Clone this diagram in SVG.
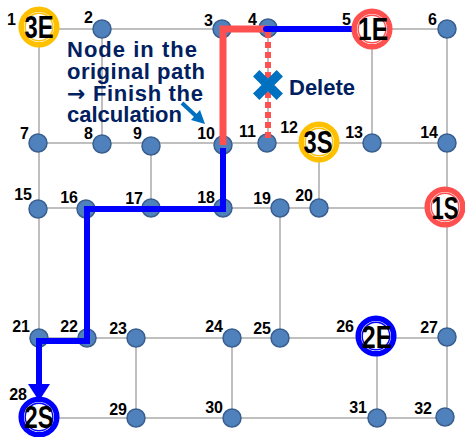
<svg xmlns="http://www.w3.org/2000/svg" width="465" height="437" viewBox="0 0 465 437">
  <style>
    .grid line { stroke: #BFBFBF; stroke-width: 2; }
    .node { fill: #4F81BD; stroke: #3A5F8F; stroke-width: 1.5; }
    .num { font-family: "Liberation Sans", Arial, sans-serif; font-weight: bold; font-size: 16px; fill: #000; text-anchor: end; }
    .big { font-family: "Liberation Sans", Arial, sans-serif; font-weight: bold; font-size: 31px; fill: #000; text-anchor: middle; }
    .note { font-family: "Liberation Sans", Arial, sans-serif; font-weight: bold; font-size: 22px; fill: #002060; }
    .arrow-glyph { font-family: "DejaVu Sans", sans-serif; }
    .ring { fill: #fff; stroke-width: 5.5; }
    .ring-in { fill: none; stroke-width: 1.4; }
    .yellow { stroke: #FFC000; }
    .red { stroke: #FF5050; }
    .blue { stroke: #0000FF; }
  </style>

  <rect width="465" height="437" fill="#fff"/>

  <!-- street grid -->
  <g id="connectors">
    <g class="grid">
      <line x1="39" y1="29" x2="447" y2="29"/>
      <line x1="38" y1="143" x2="447" y2="143"/>
      <line x1="38" y1="208" x2="447" y2="208"/>
      <line x1="39" y1="338" x2="447" y2="338"/>
      <line x1="38" y1="418" x2="445" y2="418"/>
      <line x1="39" y1="27" x2="39" y2="417"/>
      <line x1="102" y1="29" x2="102" y2="144"/>
      <line x1="151" y1="146" x2="151" y2="208"/>
      <line x1="223" y1="29" x2="223" y2="208"/>
      <line x1="268" y1="28" x2="268" y2="143"/>
      <line x1="319" y1="142" x2="319" y2="208"/>
      <line x1="372" y1="29" x2="372" y2="143"/>
      <line x1="447" y1="29" x2="447" y2="417"/>
      <line x1="87" y1="209" x2="87" y2="338"/>
      <line x1="136" y1="338" x2="136" y2="418"/>
      <line x1="232" y1="338" x2="232" y2="418"/>
      <line x1="280" y1="208" x2="280" y2="338"/>
      <line x1="377" y1="336" x2="377" y2="418"/>
    </g>
  </g>

  <!-- intersections -->
  <g id="nodes">
    <circle id="n2" class="node" cx="102" cy="29" r="9"/>
    <circle id="n3" class="node" cx="222" cy="29" r="9"/>
    <circle id="n4" class="node" cx="268" cy="28" r="9"/>
    <circle id="n6" class="node" cx="447" cy="29" r="9"/>
    <circle id="n7" class="node" cx="38" cy="143" r="9"/>
    <circle id="n8" class="node" cx="102" cy="144" r="9"/>
    <circle id="n9" class="node" cx="151" cy="146" r="9"/>
    <circle id="n10" class="node" cx="223" cy="145" r="9"/>
    <circle id="n11" class="node" cx="267" cy="143" r="9"/>
    <circle id="n13" class="node" cx="372" cy="143" r="9"/>
    <circle id="n14" class="node" cx="447" cy="143" r="9"/>
    <circle id="n15" class="node" cx="38" cy="209" r="9"/>
    <circle id="n16" class="node" cx="86" cy="209" r="9"/>
    <circle id="n17" class="node" cx="151" cy="208" r="9"/>
    <circle id="n18" class="node" cx="223" cy="208" r="9"/>
    <circle id="n19" class="node" cx="280" cy="208" r="9"/>
    <circle id="n20" class="node" cx="319" cy="208" r="9"/>
    <circle id="n21" class="node" cx="39" cy="338" r="9"/>
    <circle id="n22" class="node" cx="87" cy="338" r="9"/>
    <circle id="n23" class="node" cx="136" cy="338" r="9"/>
    <circle id="n24" class="node" cx="232" cy="338" r="9"/>
    <circle id="n25" class="node" cx="280" cy="338" r="9"/>
    <circle id="n27" class="node" cx="447" cy="337" r="9"/>
    <circle id="n29" class="node" cx="136" cy="418" r="9"/>
    <circle id="n30" class="node" cx="232" cy="418" r="9"/>
    <circle id="n31" class="node" cx="377" cy="418" r="9"/>
    <circle id="n32" class="node" cx="445" cy="417" r="9"/>
  </g>

  <!-- routes -->
  <g id="routes" fill="none">
    <!-- original route 1 (red) -->
    <polyline points="223,145 223,29 268,29" stroke="#FF5050" stroke-width="7" stroke-linejoin="miter"/>
    <!-- removed link 4-11 -->
    <line x1="268" y1="32" x2="268" y2="138" stroke="#FF5050" stroke-width="6" stroke-dasharray="6 4"/>
    <!-- replacement segment 4-5 -->
    <line x1="266" y1="29" x2="353" y2="29" stroke="#0000FF" stroke-width="6" stroke-linecap="round"/>
    <!-- route 2 (blue) -->
    <polyline points="223,148 223,209 87,209 87,341 39,341 39,386" stroke="#0000FF" stroke-width="6" stroke-linejoin="miter"/>
    <polygon points="28,384 50,384 39,401" fill="#0000FF"/>
  </g>

  <!-- delete mark -->
  <g id="delete">
    <path d="M256.2,73.2 L279.8,96.8 M279.8,73.2 L256.2,96.8" stroke="#0070C0" stroke-width="9" fill="none"/>
    <text class="note" x="289" y="95" font-size="25">Delete</text>
  </g>

  <!-- note -->
  <g id="note">
    <text class="note" x="67" y="57" textLength="130">Node in the</text>
    <text class="note" x="67" y="79" textLength="138">original path</text>
    <text class="note" x="67" y="101" textLength="136"><tspan class="arrow-glyph">→</tspan> Finish the</text>
    <text class="note" x="67" y="122" textLength="115">calculation</text>
    <line x1="182" y1="103" x2="196" y2="116" stroke="#0070C0" stroke-width="4"/>
    <polygon points="191,120 200,110 205,124" fill="#0070C0"/>
  </g>

  <!-- start / end points -->
  <g id="p3E">
    <circle class="ring yellow" cx="39" cy="27" r="17.8"/>
    <circle class="ring-in yellow" cx="39" cy="27" r="13.8"/>
    <text class="big" x="39" y="38" textLength="29" lengthAdjust="spacingAndGlyphs">3E</text>
  </g>
  <g id="p1E">
    <circle class="ring red" cx="372" cy="29" r="17.8"/>
    <circle class="ring-in red" cx="372" cy="29" r="13.8"/>
    <text class="big" x="373" y="40" textLength="30" lengthAdjust="spacingAndGlyphs">1E</text>
  </g>
  <g id="p3S">
    <circle class="ring yellow" cx="319" cy="142" r="17.8"/>
    <circle class="ring-in yellow" cx="319" cy="142" r="13.8"/>
    <text class="big" x="318" y="153" textLength="29" lengthAdjust="spacingAndGlyphs">3S</text>
  </g>
  <g id="p1S">
    <circle class="ring red" cx="445" cy="207" r="17.8"/>
    <circle class="ring-in red" cx="445" cy="207" r="13.8"/>
    <text class="big" x="445" y="219" textLength="27" lengthAdjust="spacingAndGlyphs">1S</text>
  </g>
  <g id="p2E">
    <circle class="ring blue" cx="376" cy="336" r="17.8"/>
    <circle class="ring-in blue" cx="376" cy="336" r="13.8"/>
    <text class="big" x="377" y="348" textLength="30" lengthAdjust="spacingAndGlyphs">2E</text>
  </g>
  <g id="p2S">
    <circle class="ring blue" cx="39" cy="417" r="17.8"/>
    <circle class="ring-in blue" cx="39" cy="417" r="13.8"/>
    <text class="big" x="39" y="428" textLength="29" lengthAdjust="spacingAndGlyphs">2S</text>
  </g>

  <!-- node numbers -->
  <g id="labels">
    <text class="num" x="16" y="25">1</text>
    <text class="num" x="93" y="23">2</text>
    <text class="num" x="213" y="26">3</text>
    <text class="num" x="257" y="25">4</text>
    <text class="num" x="351" y="25">5</text>
    <text class="num" x="437" y="25">6</text>
    <text class="num" x="29" y="139">7</text>
    <text class="num" x="93" y="139">8</text>
    <text class="num" x="142" y="139">9</text>
    <text class="num" x="215" y="139">10</text>
    <text class="num" x="256" y="137">11</text>
    <text class="num" x="298" y="133">12</text>
    <text class="num" x="363" y="138">13</text>
    <text class="num" x="438" y="138">14</text>
    <text class="num" x="32" y="200">15</text>
    <text class="num" x="78" y="203">16</text>
    <text class="num" x="143" y="204">17</text>
    <text class="num" x="215" y="203">18</text>
    <text class="num" x="271" y="204">19</text>
    <text class="num" x="313" y="201">20</text>
    <text class="num" x="30" y="332">21</text>
    <text class="num" x="78" y="332">22</text>
    <text class="num" x="127" y="334">23</text>
    <text class="num" x="223" y="332">24</text>
    <text class="num" x="271" y="334">25</text>
    <text class="num" x="354" y="332">26</text>
    <text class="num" x="438" y="333">27</text>
    <text class="num" x="27" y="400">28</text>
    <text class="num" x="127" y="415">29</text>
    <text class="num" x="223" y="413">30</text>
    <text class="num" x="367" y="413">31</text>
    <text class="num" x="432" y="414">32</text>
  </g>
</svg>
